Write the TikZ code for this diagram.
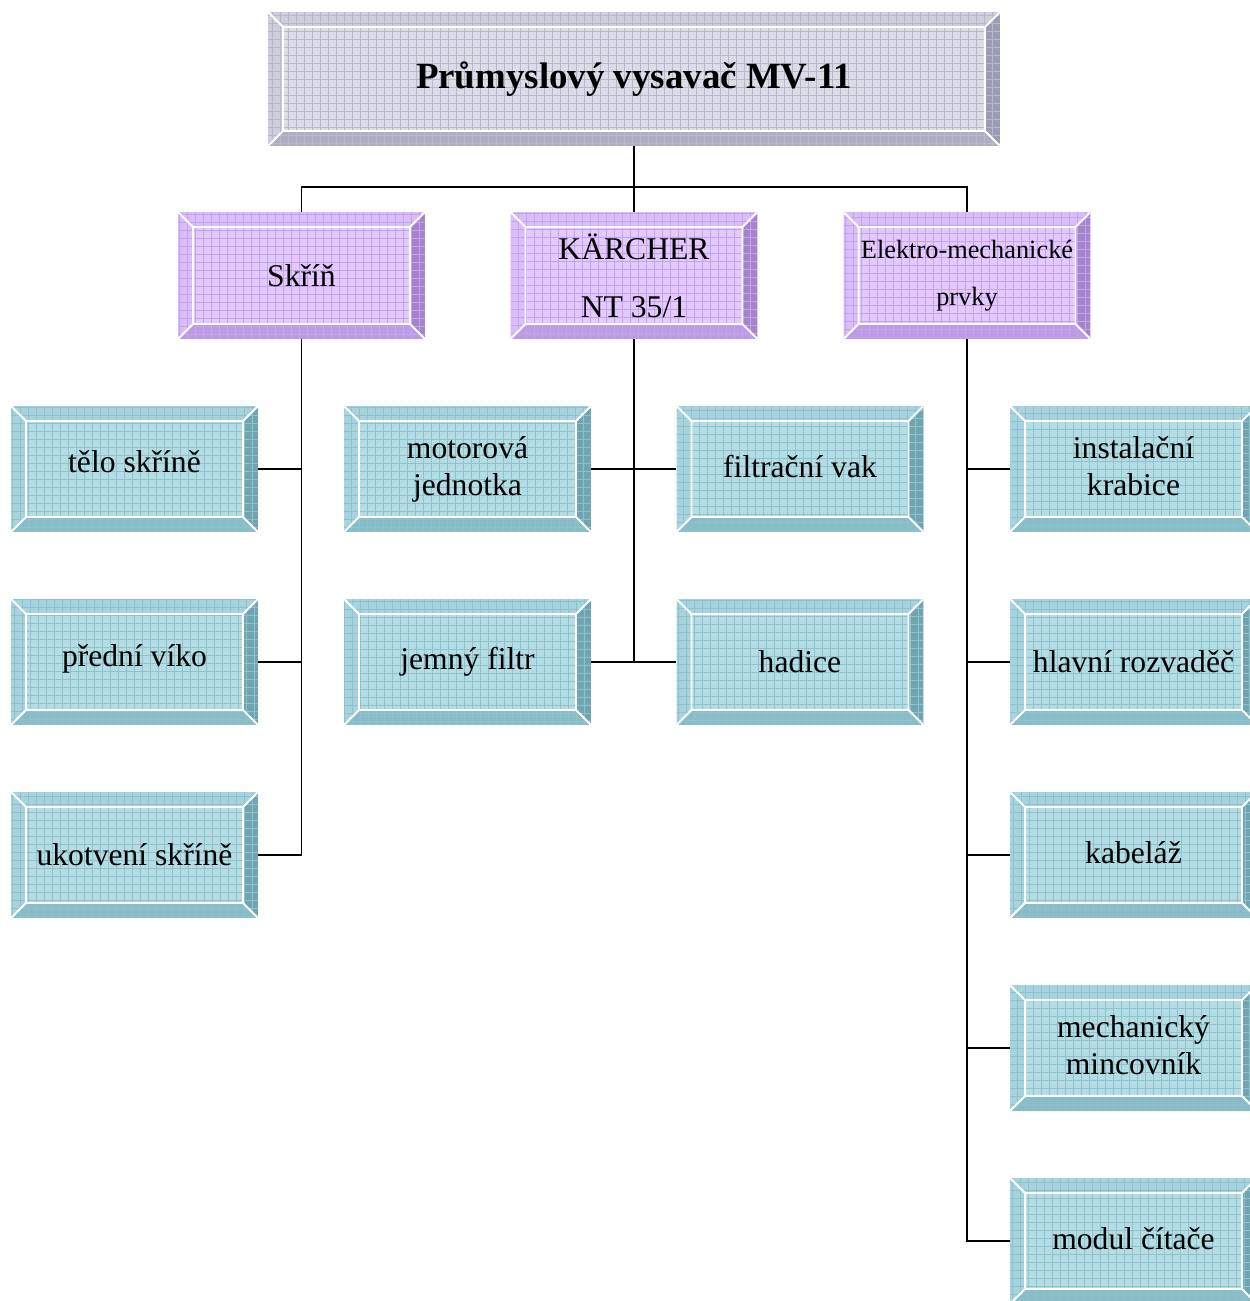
\documentclass[tikz,border=0pt]{standalone}
\usepackage{fontspec}
\setmainfont{Liberation Serif}
\usetikzlibrary{calc}

% colours: C centre, T top/left bevel, R right bevel, B bottom bevel, G grid
\definecolor{grayC}{HTML}{DCDCE8}
\definecolor{grayT}{HTML}{CDCDDC}
\definecolor{grayR}{HTML}{9C9CB4}
\definecolor{grayB}{HTML}{AEAEC2}
\definecolor{grayG}{HTML}{B8B8CC}
\definecolor{lilaC}{HTML}{E4CAFC}
\definecolor{lilaT}{HTML}{DABCF8}
\definecolor{lilaR}{HTML}{A684CC}
\definecolor{lilaB}{HTML}{BD9AE4}
\definecolor{lilaG}{HTML}{C4A2EC}
\definecolor{tealC}{HTML}{B4DCE4}
\definecolor{tealT}{HTML}{A6D3DD}
\definecolor{tealR}{HTML}{70A4B0}
\definecolor{tealB}{HTML}{89BCC6}
\definecolor{tealG}{HTML}{8EC2CD}

\def\bw{0.3cm}
\tikzset{
  bevel/.style={rectangle, inner sep=0pt, align=center, fill=#1C,
    minimum width=4.94cm, minimum height=2.52cm,
    font=\fontsize{18}{21}\selectfont,
    path picture={
      \path (path picture bounding box.north west) coordinate (onw)
            (path picture bounding box.north east) coordinate (one)
            (path picture bounding box.south west) coordinate (osw)
            (path picture bounding box.south east) coordinate (ose);
      \path ([shift={(\bw,-\bw)}]onw) coordinate (inw)
            ([shift={(-\bw,-\bw)}]one) coordinate (ine)
            ([shift={(\bw,\bw)}]osw) coordinate (isw)
            ([shift={(-\bw,\bw)}]ose) coordinate (ise);
      \fill[#1T] (onw) -- (one) -- (ine) -- (inw) -- cycle;
      \fill[#1T] (onw) -- (inw) -- (isw) -- (osw) -- cycle;
      \fill[#1R] (one) -- (ose) -- (ise) -- (ine) -- cycle;
      \fill[#1B] (osw) -- (isw) -- (ise) -- (ose) -- cycle;
      \draw[#1G, line width=0.4pt, step=0.16cm] (osw) grid (one);
      \draw[white, line width=1.1pt] (inw) rectangle (ise)
        (onw) -- (inw) (one) -- (ine) (osw) -- (isw) (ose) -- (ise);
    }},
  level2/.style={bevel=lila, minimum height=2.54cm},
  level3/.style={bevel=teal},
  link/.style={line width=1.1pt}
}

\begin{document}
\begin{tikzpicture}[x=0.02cm, y=-0.02cm]
  \useasboundingbox (0,0) rectangle (1249,1301);

  % top
  \node[bevel=gray, minimum width=14.64cm, minimum height=2.68cm,
        font=\fontsize{21}{24}\selectfont\bfseries] (title) at (634,79) {\raisebox{4pt}{Průmyslový vysavač MV-11}};

  % second level
  \node[level2] (skrin) at (301.5,275.5) {Skříň};
  \node[level2] (karcher) at (634,275.5) {\raisebox{2pt}{KÄRCHER}\\[10pt]NT 35/1};
  \node[level2, font=\fontsize{15}{27}\selectfont] (elektro) at (967,275.5) {Elektro-mechanické\\prvky};

  % Skříň
  \node[level3] (telo) at (134.5,469) {\raisebox{8pt}{tělo skříně}};
  \node[level3] (vko) at (134.5,662) {\raisebox{7pt}{přední víko}};
  \node[level3] (ukotveni) at (134.5,855) {\raisebox{-3pt}{ukotvení skříně}};

  % KÄRCHER
  \node[level3] (motor) at (467.5,469) {motorová\\jednotka};
  \node[level3] (jemny) at (467.5,662) {\raisebox{-7pt}{jemný filtr}};
  \node[level3] (vak) at (800,469) {\raisebox{3pt}{filtrační vak}};
  \node[level3] (hadice) at (800,662) {hadice};

  % Elektro-mechanické prvky
  \node[level3] (krabice) at (1133.5,469) {\raisebox{3pt}{instalační}\\\raisebox{3pt}{krabice}};
  \node[level3] (rozvadec) at (1133.5,662) {hlavní rozvaděč};
  \node[level3] (kabelaz) at (1133.5,855) {\raisebox{3pt}{kabeláž}};
  \node[level3] (mincovnik) at (1133.5,1048) {\raisebox{3pt}{mechanický}\\\raisebox{3pt}{mincovník}};
  \node[level3] (citac) at (1133.5,1241) {\raisebox{3pt}{modul čítače}};

  % connectors
  \coordinate (bus) at (634,187);
  \draw[link] (title.south) -- (bus);
  \draw[link] (skrin.north) |- (bus) -| (elektro.north);
  \draw[link] (bus) -- (karcher.north);

  \draw[link] (skrin.south) |- (ukotveni.east);
  \draw[link] (telo.east) -| (skrin.south);
  \draw[link] (vko.east) -| (skrin.south);

  \draw[link] (karcher.south) -- (karcher.south |- jemny.east);
  \draw[link] (motor.east) -- (vak.west);
  \draw[link] (jemny.east) -- (hadice.west);

  \draw[link] (elektro.south) |- (citac.west);
  \foreach \n in {krabice, rozvadec, kabelaz, mincovnik}
    \draw[link] (\n.west) -| (elektro.south);
\end{tikzpicture}
\end{document}
